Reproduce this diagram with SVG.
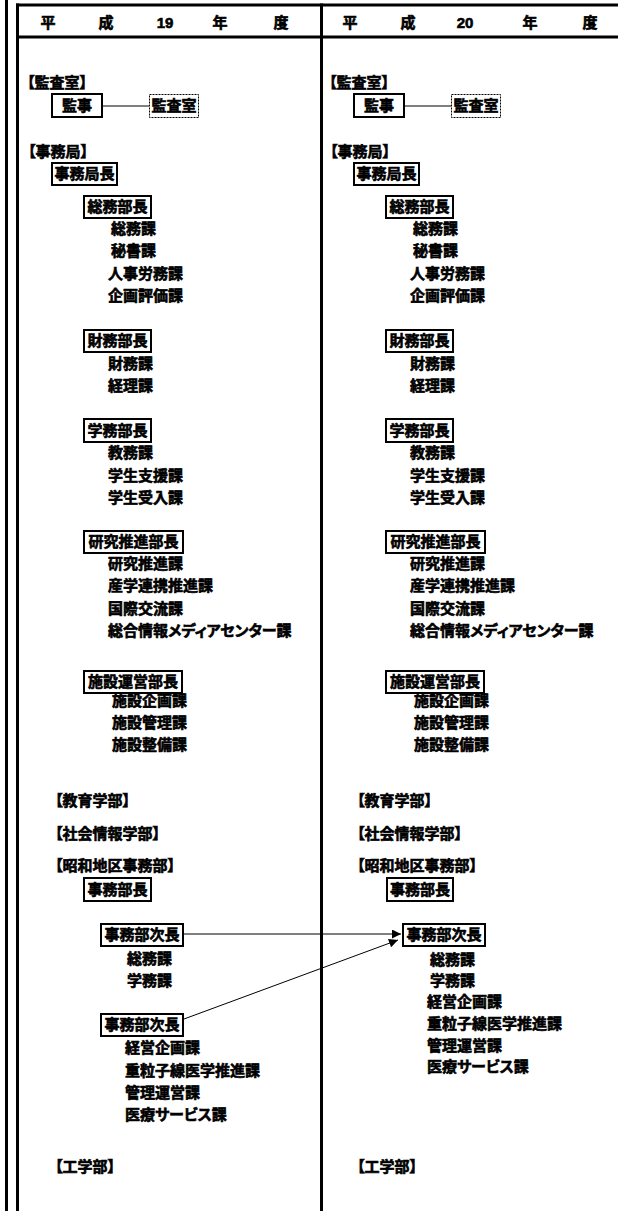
<svg xmlns="http://www.w3.org/2000/svg" width="618" height="1211" viewBox="0 0 618 1211">
<style>
text{font-family:"Noto Sans CJK JP","Noto Sans",sans-serif;font-weight:bold;font-size:15px;fill:#000;stroke:#000;stroke-width:0.6;font-feature-settings:"palt" 1;}
.h{font-family:"Liberation Sans","Noto Sans CJK JP",sans-serif;font-size:15px;}
.m{text-anchor:middle;}
.box{fill:#fff;stroke:#000;stroke-width:2;}
.dot{fill:#fff;stroke:#000;stroke-width:1;stroke-dasharray:2 1;}
.frame{stroke:#000;stroke-width:3;fill:none;}
.conn{stroke:#000;stroke-width:1;fill:none;}
</style>
<defs>
<marker id="ah" viewBox="0 0 10 10" refX="10" refY="5" markerWidth="11" markerHeight="9" markerUnits="userSpaceOnUse" orient="auto">
<path d="M0,0 L10,5 L0,10 z" fill="#000"/>
</marker>
</defs>
<g id="frame">
<line class="frame" x1="6.5" y1="0" x2="6.5" y2="1211"/>
<line class="frame" x1="17.5" y1="3.5" x2="17.5" y2="1211"/>
<line class="frame" x1="321.5" y1="3.5" x2="321.5" y2="1211"/>
<line class="frame" x1="16" y1="5" x2="618" y2="5"/>
<line class="frame" x1="16" y1="37" x2="618" y2="37"/>
</g>
<g id="header">
<text class="h m" x="48" y="28">平</text>
<text class="h m" x="106" y="28">成</text>
<text class="h m" x="165" y="28">19</text>
<text class="h m" x="220" y="28">年</text>
<text class="h m" x="281" y="28">度</text>
<text class="h m" x="350" y="28">平</text>
<text class="h m" x="408" y="28">成</text>
<text class="h m" x="465" y="28">20</text>
<text class="h m" x="530" y="28">年</text>
<text class="h m" x="590" y="28">度</text>
</g>
<g id="connectors">
<line class="conn" x1="102" y1="106" x2="149" y2="106"/>
<line class="conn" x1="404" y1="106" x2="451" y2="106"/>
<line class="conn" x1="184" y1="934" x2="401" y2="934" marker-end="url(#ah)"/>
<line class="conn" x1="184" y1="1019" x2="398" y2="940" marker-end="url(#ah)"/>
</g>
<g id="left">
<g id="l-kansa"><text x="27" y="88">【監査室】</text></g>
<g id="l-kanji"><rect class="box" x="52" y="94" width="50" height="23"/><text class="m" x="77" y="111">監事</text></g>
<g id="l-kansashitsu"><rect class="dot" x="149.5" y="94.5" width="49" height="23"/><text class="m" x="174" y="111">監査室</text></g>
<g id="l-jimukyoku"><text x="28" y="157">【事務局】</text></g>
<g id="l-kyokucho"><rect class="box" x="52" y="163" width="65" height="22"/><text class="m" x="84.5" y="179">事務局長</text></g>
<g id="l-somu"><rect class="box" x="84" y="196" width="67" height="22"/><text class="m" x="117.5" y="212">総務部長</text>
<text x="111" y="234">総務課</text><text x="111" y="256">秘書課</text><text x="108" y="279">人事労務課</text><text x="108" y="301">企画評価課</text></g>
<g id="l-zaimu"><rect class="box" x="84" y="330" width="67" height="22"/><text class="m" x="117.5" y="346">財務部長</text>
<text x="108" y="369">財務課</text><text x="108" y="391">経理課</text></g>
<g id="l-gakumu"><rect class="box" x="84" y="419" width="67" height="23"/><text class="m" x="117.5" y="436">学務部長</text>
<text x="108" y="458">教務課</text><text x="108" y="481">学生支援課</text><text x="108" y="503">学生受入課</text></g>
<g id="l-kenkyu"><rect class="box" x="84" y="531" width="99" height="22"/><text class="m" x="133.5" y="547">研究推進部長</text>
<text x="108" y="569">研究推進課</text><text x="108" y="591">産学連携推進課</text><text x="108" y="614">国際交流課</text><text x="108" y="636">総合情報メディアセンター課</text></g>
<g id="l-shisetsu"><rect class="box" x="84" y="671" width="98" height="22"/><text class="m" x="133" y="687">施設運営部長</text>
<text x="112" y="706">施設企画課</text><text x="112" y="728">施設管理課</text><text x="112" y="750">施設整備課</text></g>
<g id="l-kyoiku"><text x="55" y="806">【教育学部】</text></g>
<g id="l-shakai"><text x="55" y="839">【社会情報学部】</text></g>
<g id="l-showa"><text x="55" y="871">【昭和地区事務部】</text></g>
<g id="l-jimubucho"><rect class="box" x="84" y="878" width="67" height="23"/><text class="m" x="117.5" y="895">事務部長</text></g>
<g id="l-jicho1"><rect class="box" x="101" y="924" width="82" height="22"/><text class="m" x="142" y="940">事務部次長</text>
<text x="127" y="964">総務課</text><text x="127" y="986">学務課</text></g>
<g id="l-jicho2"><rect class="box" x="101" y="1014" width="82" height="22"/><text class="m" x="142" y="1030">事務部次長</text>
<text x="125" y="1053">経営企画課</text><text x="125" y="1076">重粒子線医学推進課</text><text x="125" y="1098">管理運営課</text><text x="125" y="1120">医療サービス課</text></g>
<g id="l-kogaku"><text x="55" y="1172">【工学部】</text></g>
</g>
<g id="right">
<g id="r-kansa"><text x="329" y="88">【監査室】</text></g>
<g id="r-kanji"><rect class="box" x="354" y="94" width="50" height="23"/><text class="m" x="379" y="111">監事</text></g>
<g id="r-kansashitsu"><rect class="dot" x="451.5" y="94.5" width="49" height="23"/><text class="m" x="476" y="111">監査室</text></g>
<g id="r-jimukyoku"><text x="330" y="157">【事務局】</text></g>
<g id="r-kyokucho"><rect class="box" x="354" y="163" width="65" height="22"/><text class="m" x="386.5" y="179">事務局長</text></g>
<g id="r-somu"><rect class="box" x="386" y="196" width="67" height="22"/><text class="m" x="419.5" y="212">総務部長</text>
<text x="413" y="234">総務課</text><text x="413" y="256">秘書課</text><text x="410" y="279">人事労務課</text><text x="410" y="301">企画評価課</text></g>
<g id="r-zaimu"><rect class="box" x="386" y="330" width="67" height="22"/><text class="m" x="419.5" y="346">財務部長</text>
<text x="410" y="369">財務課</text><text x="410" y="391">経理課</text></g>
<g id="r-gakumu"><rect class="box" x="386" y="419" width="67" height="23"/><text class="m" x="419.5" y="436">学務部長</text>
<text x="410" y="458">教務課</text><text x="410" y="481">学生支援課</text><text x="410" y="503">学生受入課</text></g>
<g id="r-kenkyu"><rect class="box" x="386" y="531" width="99" height="22"/><text class="m" x="435.5" y="547">研究推進部長</text>
<text x="410" y="569">研究推進課</text><text x="410" y="591">産学連携推進課</text><text x="410" y="614">国際交流課</text><text x="410" y="636">総合情報メディアセンター課</text></g>
<g id="r-shisetsu"><rect class="box" x="386" y="671" width="98" height="22"/><text class="m" x="435" y="687">施設運営部長</text>
<text x="414" y="706">施設企画課</text><text x="414" y="728">施設管理課</text><text x="414" y="750">施設整備課</text></g>
<g id="r-kyoiku"><text x="357" y="806">【教育学部】</text></g>
<g id="r-shakai"><text x="357" y="839">【社会情報学部】</text></g>
<g id="r-showa"><text x="357" y="871">【昭和地区事務部】</text></g>
<g id="r-jimubucho"><rect class="box" x="387" y="878" width="66" height="23"/><text class="m" x="420" y="895">事務部長</text></g>
<g id="r-jicho"><rect class="box" x="403" y="924" width="82" height="22"/><text class="m" x="444" y="940">事務部次長</text>
<text x="430" y="965">総務課</text><text x="430" y="986">学務課</text><text x="427" y="1007">経営企画課</text><text x="427" y="1029">重粒子線医学推進課</text><text x="427" y="1051">管理運営課</text><text x="427" y="1072">医療サービス課</text></g>
<g id="r-kogaku"><text x="357" y="1172">【工学部】</text></g>
</g>
</svg>
